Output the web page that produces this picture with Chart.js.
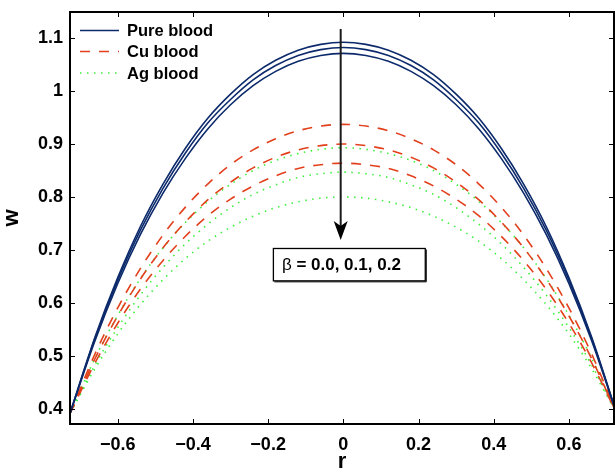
<!DOCTYPE html>
<html>
<head>
<meta charset="utf-8">
<title>w vs r</title>
<script src="https://cdn.jsdelivr.net/npm/chart.js@4.4.1/dist/chart.umd.min.js"></script>
<style>
  body { margin: 0; background: #fff; }
  #wrap { width: 615px; height: 474px; }
</style>
</head>
<body>
<div id="wrap"><canvas id="canvas0" width="615" height="474"></canvas></div>
<script>
// radial position r
var radius = [-0.727, -0.66, -0.6, -0.54, -0.48, -0.42, -0.36, -0.3, -0.24, -0.18, -0.12, -0.06, 0,
              0.06, 0.12, 0.18, 0.24, 0.3, 0.36, 0.42, 0.48, 0.54, 0.6, 0.66, 0.727];

// velocity w, beta = 0.0, 0.1, 0.2
var pure00 = [0.392, 0.537, 0.648, 0.744, 0.824, 0.892, 0.949, 0.994, 1.031, 1.058, 1.077, 1.088, 1.092,
              1.088, 1.077, 1.058, 1.031, 0.994, 0.949, 0.892, 0.824, 0.744, 0.648, 0.537, 0.392];
var pure01 = [0.392, 0.534, 0.643, 0.737, 0.816, 0.883, 0.940, 0.984, 1.021, 1.048, 1.067, 1.078, 1.082,
              1.078, 1.067, 1.048, 1.021, 0.984, 0.940, 0.883, 0.816, 0.737, 0.643, 0.534, 0.392];
var pure02 = [0.392, 0.530, 0.637, 0.729, 0.807, 0.873, 0.929, 0.974, 1.010, 1.037, 1.056, 1.067, 1.071,
              1.067, 1.056, 1.037, 1.010, 0.974, 0.929, 0.873, 0.807, 0.729, 0.637, 0.530, 0.392];

var cu00 = [0.392, 0.505, 0.591, 0.665, 0.728, 0.781, 0.825, 0.861, 0.889, 0.910, 0.925, 0.934, 0.937,
            0.934, 0.925, 0.910, 0.889, 0.861, 0.825, 0.781, 0.728, 0.665, 0.591, 0.505, 0.392];
var cu01 = [0.392, 0.496, 0.576, 0.645, 0.704, 0.753, 0.795, 0.828, 0.855, 0.875, 0.889, 0.897, 0.900,
            0.897, 0.889, 0.875, 0.855, 0.828, 0.795, 0.753, 0.704, 0.645, 0.576, 0.496, 0.392];
var cu02 = [0.392, 0.488, 0.562, 0.626, 0.680, 0.726, 0.765, 0.796, 0.821, 0.840, 0.854, 0.861, 0.864,
            0.861, 0.854, 0.840, 0.821, 0.796, 0.765, 0.726, 0.680, 0.626, 0.562, 0.488, 0.392];

var ag00 = [0.392, 0.497, 0.577, 0.646, 0.704, 0.752, 0.792, 0.824, 0.850, 0.869, 0.882, 0.890, 0.893,
            0.890, 0.882, 0.869, 0.850, 0.824, 0.792, 0.752, 0.704, 0.646, 0.577, 0.497, 0.392];
var ag01 = [0.392, 0.484, 0.554, 0.615, 0.667, 0.712, 0.749, 0.780, 0.805, 0.823, 0.837, 0.844, 0.847,
            0.844, 0.837, 0.823, 0.805, 0.780, 0.749, 0.712, 0.667, 0.615, 0.554, 0.484, 0.392];
var ag02 = [0.392, 0.477, 0.542, 0.597, 0.644, 0.684, 0.717, 0.743, 0.764, 0.780, 0.791, 0.798, 0.800,
            0.798, 0.791, 0.780, 0.764, 0.743, 0.717, 0.684, 0.644, 0.597, 0.542, 0.477, 0.392];

var xTicks = [-0.6, -0.4, -0.2, 0, 0.2, 0.4, 0.6];
var yTicks = [0.4, 0.5, 0.6, 0.7, 0.8, 0.9, 1, 1.1];
var legendNames = ["Pure blood", "Cu blood", "Ag blood"];
var betaLabel = " = 0.0, 0.1, 0.2";

// arrow and text box, in data units
var arrowX = -0.007, arrowFrom = 1.117, arrowTo = 0.719;
var boxLeft = -0.186, boxRight = 0.218, boxTop = 0.703, boxBottom = 0.642;

var FONT = "'Liberation Sans', Arial, Helvetica, sans-serif";
var PURE = "#0c2a6b", CU = "#e2401c", AG = "#3cf03c";
var CU_DASH = [10, 9], AG_DASH = [1.5, 5.5];

function points(vals) {
  return radius.map(function (r, i) { return { x: r, y: vals[i] }; });
}

function lineSet(vals, color, dash) {
  return {
    data: points(vals),
    borderColor: color,
    borderWidth: 1.6,
    borderDash: dash,
    fill: false,
    pointRadius: 0,
    cubicInterpolationMode: 'monotone'
  };
}

function fmt(v) {
  var s = String(Math.round(v * 10) / 10);
  return s.replace('-', '\u2212');
}

var framePlugin = {
  id: 'frame',
  afterDraw: function (chart) {
    var ctx = chart.ctx, a = chart.chartArea;
    var xs = chart.scales.x, ys = chart.scales.y;
    ctx.save();

    // inward ticks on all four sides
    ctx.strokeStyle = '#000';
    ctx.lineWidth = 1;
    ctx.beginPath();
    xTicks.forEach(function (v) {
      var p = Math.round(xs.getPixelForValue(v)) + 0.5;
      ctx.moveTo(p, a.bottom); ctx.lineTo(p, a.bottom - 5);
      ctx.moveTo(p, a.top); ctx.lineTo(p, a.top + 5);
    });
    yTicks.forEach(function (v) {
      var p = Math.round(ys.getPixelForValue(v)) + 0.5;
      ctx.moveTo(a.left, p); ctx.lineTo(a.left + 5, p);
      ctx.moveTo(a.right, p); ctx.lineTo(a.right - 5, p);
    });
    ctx.stroke();

    ctx.lineWidth = 2;
    ctx.strokeRect(a.left, a.top, a.right - a.left, a.bottom - a.top);

    // legend inside the axes, top left
    var rows = [a.top + 18.5, a.top + 39.5, a.top + 61];
    var styles = [[PURE, []], [CU, CU_DASH], [AG, AG_DASH]];
    ctx.font = "bold 16.5px " + FONT;
    ctx.textBaseline = 'middle';
    ctx.textAlign = 'left';
    rows.forEach(function (y, i) {
      ctx.strokeStyle = styles[i][0];
      ctx.setLineDash(styles[i][1]);
      ctx.lineWidth = 1.6;
      ctx.beginPath();
      ctx.moveTo(a.left + 10, y);
      ctx.lineTo(a.left + 49, y);
      ctx.stroke();
      ctx.fillStyle = '#000';
      ctx.fillText(legendNames[i], a.left + 57, y + 1);
    });
    ctx.setLineDash([]);

    // arrow
    var ax = xs.getPixelForValue(arrowX);
    var ay0 = ys.getPixelForValue(arrowFrom), ay1 = ys.getPixelForValue(arrowTo);
    ctx.strokeStyle = '#1a1a1a';
    ctx.fillStyle = '#000';
    ctx.lineWidth = 2;
    ctx.beginPath();
    ctx.moveTo(ax, ay0);
    ctx.lineTo(ax, ay1 - 10);
    ctx.stroke();
    ctx.beginPath();
    ctx.moveTo(ax, ay1);
    ctx.lineTo(ax - 7, ay1 - 19);
    ctx.lineTo(ax, ay1 - 14);
    ctx.lineTo(ax + 7, ay1 - 19);
    ctx.closePath();
    ctx.fill();

    // beta text box
    var bl = xs.getPixelForValue(boxLeft), br = xs.getPixelForValue(boxRight);
    var bt = ys.getPixelForValue(boxTop), bb = ys.getPixelForValue(boxBottom);
    ctx.fillStyle = '#fff';
    ctx.fillRect(bl, bt, br - bl, bb - bt);
    ctx.strokeStyle = '#000';
    ctx.lineWidth = 1.3;
    ctx.strokeRect(bl, bt, br - bl, bb - bt);
    ctx.lineWidth = 1;
    ctx.beginPath();
    ctx.moveTo(br + 1, bt + 1); ctx.lineTo(br + 1, bb + 1); ctx.lineTo(bl + 1, bb + 1);
    ctx.stroke();
    var ty = (bt + bb) / 2 + 1;
    ctx.fillStyle = '#000';
    ctx.font = "17px " + FONT;
    ctx.fillText("\u03b2", bl + 8.5, ty);
    var bw = ctx.measureText("\u03b2").width;
    ctx.font = "bold 17px " + FONT;
    ctx.fillText(betaLabel, bl + 8.5 + bw, ty);

    ctx.restore();
  }
};

new Chart(document.getElementById("canvas0"), {
  type: 'line',
  data: {
    datasets: [
      lineSet(pure00, PURE, []), lineSet(pure01, PURE, []), lineSet(pure02, PURE, []),
      lineSet(cu00, CU, CU_DASH), lineSet(cu01, CU, CU_DASH), lineSet(cu02, CU, CU_DASH),
      lineSet(ag00, AG, AG_DASH), lineSet(ag01, AG, AG_DASH), lineSet(ag02, AG, AG_DASH)
    ]
  },
  options: {
    responsive: false,
    animation: false,
    devicePixelRatio: 1,
    layout: { autoPadding: false, padding: { top: 12, right: 1, left: 0, bottom: 0 } },
    plugins: {
      legend: { display: false },
      tooltip: { enabled: false }
    },
    scales: {
      x: {
        type: 'linear',
        min: -0.727,
        max: 0.72,
        grid: { display: false, drawTicks: false },
        border: { display: false },
        afterBuildTicks: function (s) { s.ticks = xTicks.map(function (v) { return { value: v }; }); },
        afterFit: function (s) { s.height = 50; s.paddingLeft = 0; s.paddingRight = 0; },
        ticks: {
          padding: 10,
          maxRotation: 0,
          color: '#000',
          font: { family: FONT, size: 18, weight: 'bold', lineHeight: 1.2 },
          callback: function (v) { return fmt(v); }
        },
        title: {
          display: true,
          text: 'r',
          color: '#000',
          padding: { top: 0, bottom: 1 },
          font: { family: FONT, size: 22, weight: 'bold', lineHeight: 1 }
        }
      },
      y: {
        min: 0.372,
        max: 1.149,
        grid: { display: false, drawTicks: false },
        border: { display: false },
        afterBuildTicks: function (s) { s.ticks = yTicks.map(function (v) { return { value: v }; }); },
        afterFit: function (s) { s.width = 70; s.paddingTop = 0; s.paddingBottom = 0; },
        ticks: {
          padding: 7,
          color: '#000',
          font: { family: FONT, size: 18, weight: 'bold', lineHeight: 1.2 },
          callback: function (v) { return fmt(v); }
        },
        title: {
          display: true,
          text: 'w',
          color: '#000',
          padding: { top: 1, bottom: 0 },
          font: { family: FONT, size: 22, weight: 'bold', lineHeight: 1 }
        }
      }
    }
  },
  plugins: [framePlugin]
});
</script>
</body>
</html>
